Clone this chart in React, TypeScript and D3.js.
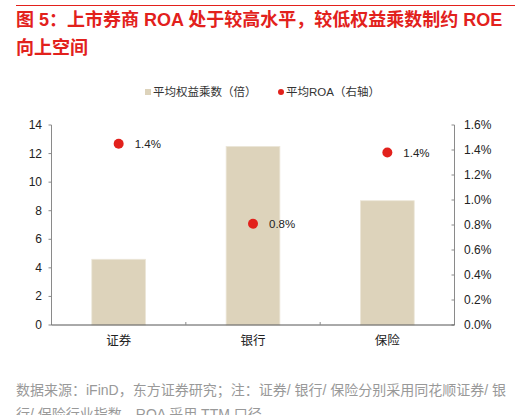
import React from "react";
import * as d3 from "d3";

const categories = ["证券", "银行", "保险"];
const equityMultiplier = [4.6, 12.5, 8.7];
const roa = [0.0145, 0.0081, 0.0138];
const roaLabels = ["1.4%", "0.8%", "1.4%"];
const leftTicks = [0, 2, 4, 6, 8, 10, 12, 14];
const rightTicks = [0, 0.002, 0.004, 0.006, 0.008, 0.01, 0.012, 0.014, 0.016];

const W = 521;
const H = 415;
const FONT = "'Liberation Sans', 'Noto Sans CJK SC', sans-serif";
const RED = "#e2211c";
const BAR = "#ddd3bb";
const AXIS = "#8a8a8a";

export default function App() {
  const left = 51.5;
  const right = 454.5;
  const top = 125;
  const bottom = 325;
  const x = d3.scaleBand<string>().domain(categories).range([left, right]).padding(0);
  const yL = d3.scaleLinear().domain([0, 14]).range([bottom, top]);
  const yR = d3.scaleLinear().domain([0, 0.016]).range([bottom, top]);
  const bw = x.bandwidth() * 0.4;
  const fmtR = d3.format(".1%");

  return (
    <svg width={W} height={H} style={{ position: "absolute", left: 0, top: 0, background: "#fff" }} fontFamily={FONT}>
      <line x1={16} x2={515} y1={5.5} y2={5.5} stroke={RED} strokeWidth={1} />
      <text x={16} y={26} fill={RED} fontSize={18} fontWeight="bold">
        图 5：上市券商 ROA 处于较高水平，较低权益乘数制约 ROE
      </text>
      <text x={16} y={54} fill={RED} fontSize={18} fontWeight="bold">
        向上空间
      </text>

      {/* legend */}
      <rect x={145} y={89} width={6} height={6} fill={BAR} />
      <text x={153} y={96} fontSize={11.5} fill="#333">平均权益乘数（倍）</text>
      <circle cx={281} cy={92} r={3} fill={RED} />
      <text x={286} y={96} fontSize={11.5} fill="#333">平均ROA（右轴）</text>

      {/* bars */}
      {categories.map((c, i) => (
        <rect
          key={c}
          x={(x(c) as number) + x.bandwidth() / 2 - bw / 2}
          y={yL(equityMultiplier[i])}
          width={bw}
          height={bottom - yL(equityMultiplier[i])}
          fill={BAR}
          stroke="#ece6d8"
          strokeWidth={0.8}
        />
      ))}

      {/* left axis */}
      <line x1={left} x2={left} y1={top} y2={bottom} stroke={AXIS} />
      {leftTicks.map((t) => (
        <g key={t}>
          <line x1={left - 3} x2={left} y1={yL(t)} y2={yL(t)} stroke={AXIS} />
          <text x={42} y={yL(t) + 4} fontSize={12} textAnchor="end" fill="#222">{t}</text>
        </g>
      ))}

      {/* right axis */}
      <line x1={right} x2={right} y1={top} y2={bottom} stroke={AXIS} />
      {rightTicks.map((t) => (
        <g key={t}>
          <line x1={right - 3} x2={right} y1={yR(t)} y2={yR(t)} stroke={AXIS} />
          <text x={464} y={yR(t) + 4} fontSize={12} fill="#222">{fmtR(t)}</text>
        </g>
      ))}

      {/* bottom axis */}
      <line x1={left} x2={right} y1={bottom} y2={bottom} stroke="#555" />
      {categories.slice(1).map((c) => (
        <line key={c} x1={x(c) as number} x2={x(c) as number} y1={bottom - 3} y2={bottom} stroke={AXIS} />
      ))}
      {categories.map((c) => (
        <text key={c} x={(x(c) as number) + x.bandwidth() / 2} y={345} fontSize={12.5} textAnchor="middle" fill="#222">{c}</text>
      ))}

      {/* ROA dots */}
      {categories.map((c, i) => {
        const cx = (x(c) as number) + x.bandwidth() / 2;
        const cy = yR(roa[i]);
        return (
          <g key={c}>
            <circle cx={cx} cy={cy} r={5} fill={RED} />
            <text x={cx + 16} y={cy + 4} fontSize={11.5} fill="#222">{roaLabels[i]}</text>
          </g>
        );
      })}

      {/* footer */}
      <text x={16} y={395} fontSize={14} fill="#999">
        数据来源：iFinD，东方证券研究；注：证券/ 银行/ 保险分别采用同花顺证券/ 银
      </text>
      <text x={16} y={419} fontSize={14} fill="#999">
        行/ 保险行业指数，ROA 采用 TTM 口径
      </text>
    </svg>
  );
}
